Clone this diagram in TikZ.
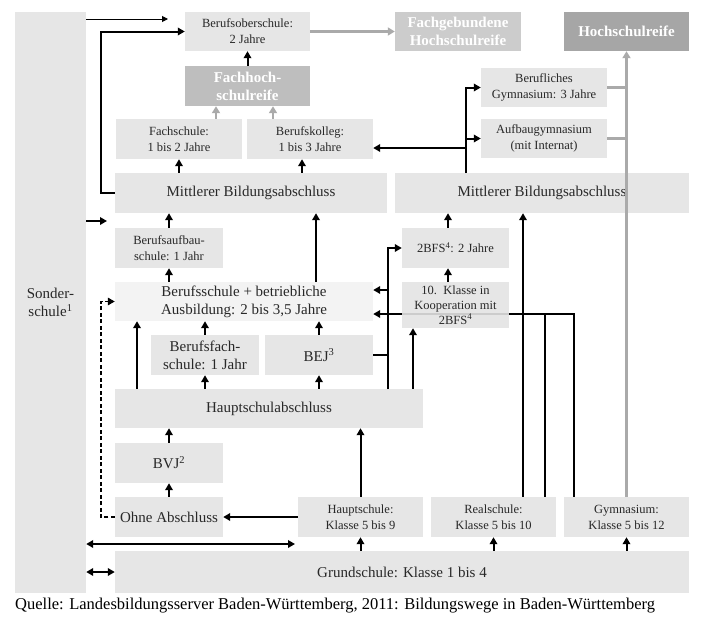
\documentclass[tikz,border=0pt]{standalone}
\usepackage{fontspec}
\setmainfont{Liberation Serif}
\usetikzlibrary{arrows.meta,calc}
\definecolor{boxgray}{RGB}{230,230,230}
\definecolor{lightbox}{RGB}{243,243,243}
\definecolor{fhrgray}{RGB}{190,190,190}
\definecolor{fghgray}{RGB}{204,204,204}
\definecolor{hsrgray}{RGB}{166,166,166}
\definecolor{arrgray}{RGB}{170,170,170}
\definecolor{txtcol}{RGB}{40,40,40}
\begin{document}
\begin{tikzpicture}[x=1pt,y=-1pt,
  box/.style={fill=boxgray, inner sep=0pt, align=center, text=txtcol, font=\fontsize{12.5}{16}\selectfont},
  bigbox/.style={box, font=\fontsize{15}{18}\selectfont},
  reife/.style={box, text=white, font=\fontsize{15}{18}\selectfont\bfseries},
  arr/.style={line width=2pt, -{Triangle[length=7pt,width=7.5pt]}},
  thinarr/.style={line width=1pt, -{Triangle[length=6pt,width=6pt]}},
  dblarr/.style={line width=2pt, {Triangle[length=7pt,width=7.5pt]}-{Triangle[length=7pt,width=7.5pt]}},
  dasharr/.style={line width=1.6pt, dash pattern=on 4pt off 2.5pt, -{Triangle[length=7pt,width=7.5pt]}},
  conn/.style={line width=2pt},
  grayarr/.style={line width=2.6pt, arrgray, -{Triangle[length=7pt,width=8pt]}},
  grayline/.style={line width=2.6pt, arrgray}]
\useasboundingbox (0,0) rectangle (705,629);

% nodes
\node[bigbox, minimum width=71pt, minimum height=581pt] (sonder) at (50.5,302.5) {Sonder-\\schule\textsuperscript{1}};
\node[box, minimum width=125pt, minimum height=39pt] (bos) at (247.5,31.5) {Berufsoberschule:\\2 Jahre};
\node[reife, fill=fhrgray, minimum width=125pt, minimum height=40pt] (fhr) at (247.5,86) {Fachhoch-\\schulreife};
\node[reife, fill=fghgray, minimum width=126pt, minimum height=39pt] (fgh) at (458,31.5) {Fachgebundene\\Hochschulreife};
\node[reife, fill=hsrgray, minimum width=125pt, minimum height=39pt] (hsr) at (626.5,31.5) {Hochschulreife};
\node[box, minimum width=126pt, minimum height=40pt] (fs) at (179,139) {Fachschule:\\1 bis 2 Jahre};
\node[box, minimum width=126pt, minimum height=40pt] (bk) at (310,139) {Berufskolleg:\\1 bis 3 Jahre};
\node[box, minimum width=126pt, minimum height=39pt] (bg) at (544,87.5) {Berufliches\\Gymnasium: 3 Jahre};
\node[box, minimum width=126pt, minimum height=39pt] (ag) at (544,138.5) {Aufbaugymnasium\\(mit Internat)};
\node[bigbox, minimum width=272pt, minimum height=40pt] (mbl) at (251,193) {Mittlerer Bildungsabschluss};
\node[bigbox, minimum width=294pt, minimum height=40pt] (mbr) at (542,193) {Mittlerer Bildungsabschluss};
\node[box, minimum width=108pt, minimum height=40pt] (bas) at (169,248) {Berufsaufbau-\\schule: 1 Jahr};
\node[box, minimum width=107pt, minimum height=40pt] (bfs2) at (455.5,248) {2BFS\textsuperscript{4}: 2 Jahre};
\node[bigbox, fill=lightbox, minimum width=258pt, minimum height=39pt] (bsa) at (244,301.5) {Berufsschule + betriebliche\\Ausbildung: 2 bis 3,5 Jahre};
\node[box, minimum width=107pt, minimum height=46pt] (kl10) at (455.5,305) {};
\draw[line width=2pt, fghgray] (kl10.west |- 0,314) -- (kl10.east |- 0,314);
\node[box, fill=none, font=\fontsize{12.5}{15}\selectfont] (kl10t) at (kl10.center) {10.\ \ Klasse in\\Kooperation mit\\2BFS\textsuperscript{4}};
\node[bigbox, minimum width=108pt, minimum height=40pt] (bfs) at (205,355) {Berufsfach-\\schule: 1 Jahr};
\node[bigbox, minimum width=108pt, minimum height=40pt] (bej) at (319,355) {BEJ\textsuperscript{3}};
\node[bigbox, minimum width=308pt, minimum height=39pt] (hsa) at (269,408.5) {Hauptschulabschluss};
\node[bigbox, minimum width=108pt, minimum height=40pt] (bvj) at (169,463) {BVJ\textsuperscript{2}};
\node[bigbox, minimum width=108pt, minimum height=40pt] (ohne) at (169,517) {Ohne Abschluss};
\node[box, minimum width=125pt, minimum height=40pt] (hs) at (360.5,517) {Hauptschule:\\Klasse 5 bis 9};
\node[box, minimum width=125pt, minimum height=40pt] (rs) at (493.5,517) {Realschule:\\Klasse 5 bis 10};
\node[box, minimum width=125pt, minimum height=40pt] (gym) at (626.5,517) {Gymnasium:\\Klasse 5 bis 12};
\node[bigbox, minimum width=574pt, minimum height=42pt] (gs) at (402,572) {Grundschule: Klasse 1 bis 4};
\node[anchor=base west, inner sep=0pt, font=\fontsize{16.5}{18}\selectfont] (quelle) at (15,609) {Quelle: Landesbildungsserver Baden-Württemberg, 2011: Bildungswege in Baden-Württemberg};

% coordinates
\coordinate (t1) at (168,19);
\coordinate (t2) at (107,221);
\coordinate (v1) at (466,173);
\coordinate (v1b) at (466,148);
\coordinate (v2) at (388,389);
\coordinate (v2b) at (388,290);
\coordinate (h1) at (574,314);
\coordinate (h2) at (545,314);
\coordinate (d1) at (295,544);

% connectors top
\draw[thinarr] (sonder.east |- t1) -- (t1);
\draw[arr] (mbl.west) -- ++(-14,0) |- (bos.west);
\draw[arr] (fhr.north) -- (bos.south);
\draw[grayarr] ([xshift=-31.5pt]fhr.south |- fs.north) -- ([xshift=-31.5pt]fhr.south);
\draw[grayarr] ([xshift=25.5pt]fhr.south |- bk.north) -- ([xshift=25.5pt]fhr.south);
\draw[grayarr] (bos.east) -- (fgh.west);
\draw[arr] (fs.south |- mbl.north) -- (fs.south);
\draw[arr] ([xshift=-8pt]bk.south |- mbl.north) -- ([xshift=-8pt]bk.south);
\draw[arr] (v1) |- (bg.west);
\draw[arr] (v1 |- ag.west) -- (ag.west);
\draw[arr] (v1b) -- (v1b -| bk.east);
\draw[grayline] (bg.east) -- (bg.east -| hsr.south);
\draw[grayline] (ag.east) -- (ag.east -| hsr.south);
\draw[grayarr] (gym.north) -- (hsr.south);

% middle
\draw[arr] (sonder.east |- t2) -- (t2);
\draw[arr] (bas.north) -- (bas.north |- mbl.south);
\draw[arr] (bas.south |- bsa.north) -- (bas.south);
\draw[arr] ([xshift=72pt]bsa.north) -- ([xshift=72pt]bsa.north |- mbl.south);
\draw[dasharr] (ohne.west) -- ++(-14,0) |- (bsa.west);
\draw[arr] ([xshift=-132pt]hsa.north) -- ([xshift=-132pt]hsa.north |- bsa.south);
\draw[arr] (bfs.south |- hsa.north) -- (bfs.south);
\draw[arr] (bfs.north) -- (bfs.north |- bsa.south);
\draw[arr] (bej.south |- hsa.north) -- (bej.south);
\draw[arr] (bej.north) -- (bej.north |- bsa.south);
\draw[arr] (v2) |- (bfs2.west);
\draw[arr] (v2b) -- (v2b -| bsa.east);
\draw[conn] (bej.east) -- (bej.east -| v2);
\draw[conn] (gym.north -| h1) -- (h1) -- (h1 -| kl10.east);
\draw[conn] (rs.north -| h2) -- (h2);
\draw[arr] (kl10.west |- h1) -- (bsa.east |- h1);
\draw[arr] ([xshift=-42.5pt]kl10.south |- hsa.north) -- ([xshift=-42.5pt]kl10.south);
\draw[arr] ([xshift=-7.5pt]kl10.north) -- ([xshift=-7.5pt]bfs2.south);
\draw[arr] ([xshift=-7.5pt]bfs2.north) -- ([xshift=-7.5pt]bfs2.north |- mbr.south);
\draw[arr] ([xshift=29.5pt]rs.north) -- ([xshift=29.5pt]rs.north |- mbr.south);

% bottom
\draw[arr] (bvj.north) -- (bvj.north |- hsa.south);
\draw[arr] (ohne.north) -- (bvj.south);
\draw[arr] (hs.west) -- (ohne.east);
\draw[arr] (hs.north) -- (hs.north |- hsa.south);
\draw[dblarr] (sonder.east |- d1) -- (d1);
\draw[dblarr] (sonder.east |- gs.west) -- (gs.west);
\draw[arr] (gs.north -| hs.south) -- (hs.south);
\draw[arr] (gs.north -| rs.south) -- (rs.south);
\draw[arr] (gs.north -| gym.south) -- (gym.south);
\end{tikzpicture}
\end{document}
